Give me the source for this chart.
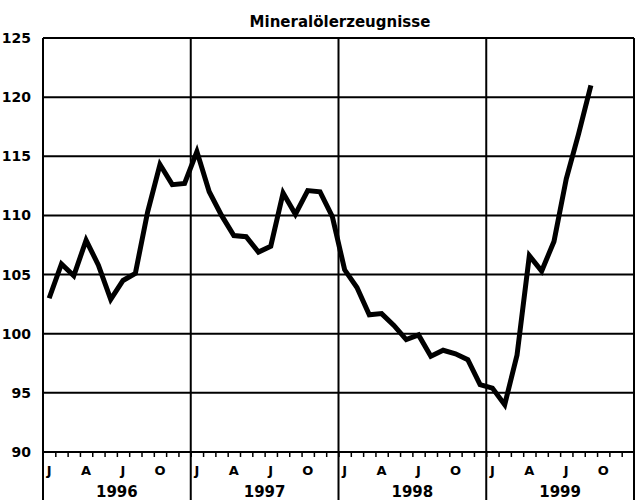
<!DOCTYPE html>
<html>
<head>
<meta charset="utf-8">
<script src="https://cdn.jsdelivr.net/npm/d3@7"></script>
<style>
  body { margin: 0; background: #fff; }
  svg { display: block; font-family: 'DejaVu Sans', sans-serif; }
</style>
</head>
<body>
<div id="chart"></div>
<script>
// Data
const title = 'Mineralölerzeugnisse'
const years = ['1996', '1997', '1998', '1999']
const monthLabels = ['J', 'A', 'J', 'O']
const monthLabelPos = [0, 3, 6, 9]
const yTicks = [90, 95, 100, 105, 110, 115, 120, 125]

const values1996 = [103.0, 105.9, 104.9, 107.9, 105.8, 102.9, 104.5, 105.1, 110.3, 114.3, 112.6, 112.7]
const values1997 = [115.4, 112.0, 110.0, 108.3, 108.2, 106.9, 107.4, 111.9, 110.1, 112.1, 112.0, 109.9]
const values1998 = [105.4, 103.9, 101.6, 101.7, 100.7, 99.5, 99.9, 98.1, 98.6, 98.3, 97.8, 95.7]
const values1999 = [95.4, 94.0, 98.2, 106.6, 105.3, 107.8, 113.1, 116.9, 121.0]

function draw() {
  const dataset = [...values1996, ...values1997, ...values1998, ...values1999]
    .map((v, i) => ({ month: i, value: v }))

  // Dimensions
  const dimensions = {
    width: 636,
    height: 504,
    left: 43,
    right: 634,
    top: 38,
    bottom: 452,
    axisBottom: 500,
  }

  const svg = d3
    .select('#chart')
    .append('svg')
    .attr('width', dimensions.width)
    .attr('height', dimensions.height)

  // Scales
  const xScale = d3
    .scaleLinear()
    .domain([0, years.length * 12])
    .range([dimensions.left, dimensions.right])

  const yScale = d3
    .scaleLinear()
    .domain([90, 125])
    .range([dimensions.bottom, dimensions.top])

  // Horizontal grid lines
  svg
    .append('g')
    .selectAll('line')
    .data(yTicks)
    .join('line')
    .attr('x1', dimensions.left)
    .attr('x2', dimensions.right)
    .attr('y1', (d) => yScale(d))
    .attr('y2', (d) => yScale(d))
    .attr('stroke', '#000')
    .attr('stroke-width', 2)

  // Year dividers, running down through the axis labels
  const dividers = d3.range(years.length + 1).map((i) => i * 12)
  svg
    .append('g')
    .selectAll('line')
    .data(dividers)
    .join('line')
    .attr('x1', (d) => xScale(d))
    .attr('x2', (d) => xScale(d))
    .attr('y1', dimensions.top)
    .attr('y2', dimensions.axisBottom)
    .attr('stroke', '#000')
    .attr('stroke-width', 2)

  // Y labels
  svg
    .append('g')
    .selectAll('text')
    .data(yTicks)
    .join('text')
    .attr('x', 31)
    .attr('y', (d) => yScale(d))
    .attr('dy', '0.36em')
    .attr('text-anchor', 'end')
    .attr('font-size', 14)
    .attr('font-weight', 'bold')
    .text((d) => d)

  // Month ticks
  const xAxis = d3
    .axisBottom(xScale)
    .tickValues(d3.range(1, years.length * 12))
    .tickSize(5)
    .tickFormat('')
  svg
    .append('g')
    .attr('transform', `translate(0, ${dimensions.bottom})`)
    .call(xAxis)
    .call((g) => g.select('.domain').remove())
    .call((g) => g.selectAll('line').attr('stroke-width', 1.5))

  // Month labels
  const monthTicks = years.flatMap((y, yi) =>
    monthLabels.map((m, mi) => ({ label: m, month: yi * 12 + monthLabelPos[mi] + 0.5 }))
  )
  svg
    .append('g')
    .selectAll('text')
    .data(monthTicks)
    .join('text')
    .attr('x', (d) => xScale(d.month))
    .attr('y', 475)
    .attr('text-anchor', 'middle')
    .attr('font-size', 13)
    .attr('font-weight', 'bold')
    .text((d) => d.label)

  // Year labels
  svg
    .append('g')
    .selectAll('text')
    .data(years)
    .join('text')
    .attr('x', (d, i) => xScale(i * 12 + 6))
    .attr('y', 497)
    .attr('text-anchor', 'middle')
    .attr('font-size', 15)
    .attr('font-weight', 'bold')
    .text((d) => d)

  // Title
  svg
    .append('text')
    .attr('x', 340)
    .attr('y', 27)
    .attr('text-anchor', 'middle')
    .attr('font-size', 15)
    .attr('font-weight', 'bold')
    .text(title)

  // Line
  const lineGenerator = d3
    .line()
    .x((d) => xScale(d.month + 0.5))
    .y((d) => yScale(d.value))

  svg
    .append('path')
    .datum(dataset)
    .attr('d', lineGenerator)
    .attr('fill', 'none')
    .attr('stroke', '#000')
    .attr('stroke-width', 5)
    .attr('stroke-linejoin', 'miter')
}

draw()
</script>
</body>
</html>
